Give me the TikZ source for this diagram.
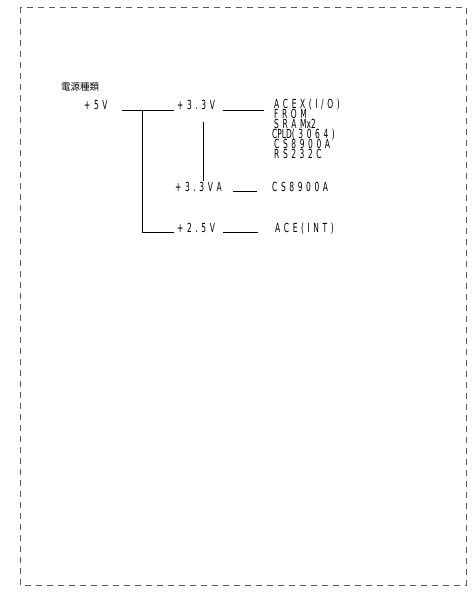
\documentclass[tikz,border=0pt]{standalone}
\usepackage{fontspec}
\setmainfont{DejaVu Sans}[FakeStretch=0.6]
\newfontfamily\cjk{Noto Sans CJK JP}
\newlength\lsp
\setlength\lsp{3.6pt}
\def\spc#1{\spci#1\relax}
\def\spci#1{\ifx\relax#1\else#1\kern\lsp\expandafter\spci\fi}
\tikzset{
  lbl/.style={inner sep=0pt, anchor=base west, font=\fontsize{12.5}{12.5}\selectfont},
  wire/.style={draw=black, line width=0.9pt},
  frame/.style={draw=black!65, line width=0.9pt, dash pattern=on 6pt off 5pt}
}
\begin{document}
\begin{tikzpicture}[x=1pt,y=-1pt]
\useasboundingbox (0,0) rectangle (472,596);
\draw[frame] (20,7) rectangle (466,585);

\node[inner sep=0pt, anchor=base west, font=\cjk\fontsize{9.5}{9.5}\selectfont] (title) at (61,91) {電源種類};

\node[lbl] (v5) at (84,110) {\spc{+5V}};
\node[lbl] (v33) at (177,110) {\spc{+3.3V}};
\node[lbl] (v33a) at (175,191) {\spc{+3.3VA}};
\node[lbl] (v25) at (177,232) {\spc{+2.5V}};

\node[lbl] (l1) at (274,108.5) {\spc{ACEX(I/O)}};
\node[lbl] (l2) at (274,118.5) {\spc{FROM}};
\node[lbl] (l3) at (274,128.5) {\spc{SRA}Mx2};
\node[lbl] (l4) at (272,138.5) {CPLD\spc{(3064)}};
\node[lbl] (l5) at (274,148.5) {\spc{CS8900A}};
\node[lbl] (l6) at (274,158.5) {\spc{RS232C}};

\node[lbl] (c1) at (272,191) {\spc{CS8900A}};
\node[lbl] (a1) at (275,232) {\spc{ACE(INT)}};

\coordinate (j1) at (142,110);
\coordinate (t1) at (203,122);
\coordinate (t2) at (203,181);

\draw[wire] (122,110) -- ([xshift=-3pt]v33.base west);
\draw[wire] (j1) |- ([xshift=-3pt]v25.base west);
\draw[wire] (223,110) -- (264,110);
\draw[wire] (t1) -- (t2);
\draw[wire] (233,191) -- (257,191);
\draw[wire] (223,232) -- (258,232);
\end{tikzpicture}
\end{document}
